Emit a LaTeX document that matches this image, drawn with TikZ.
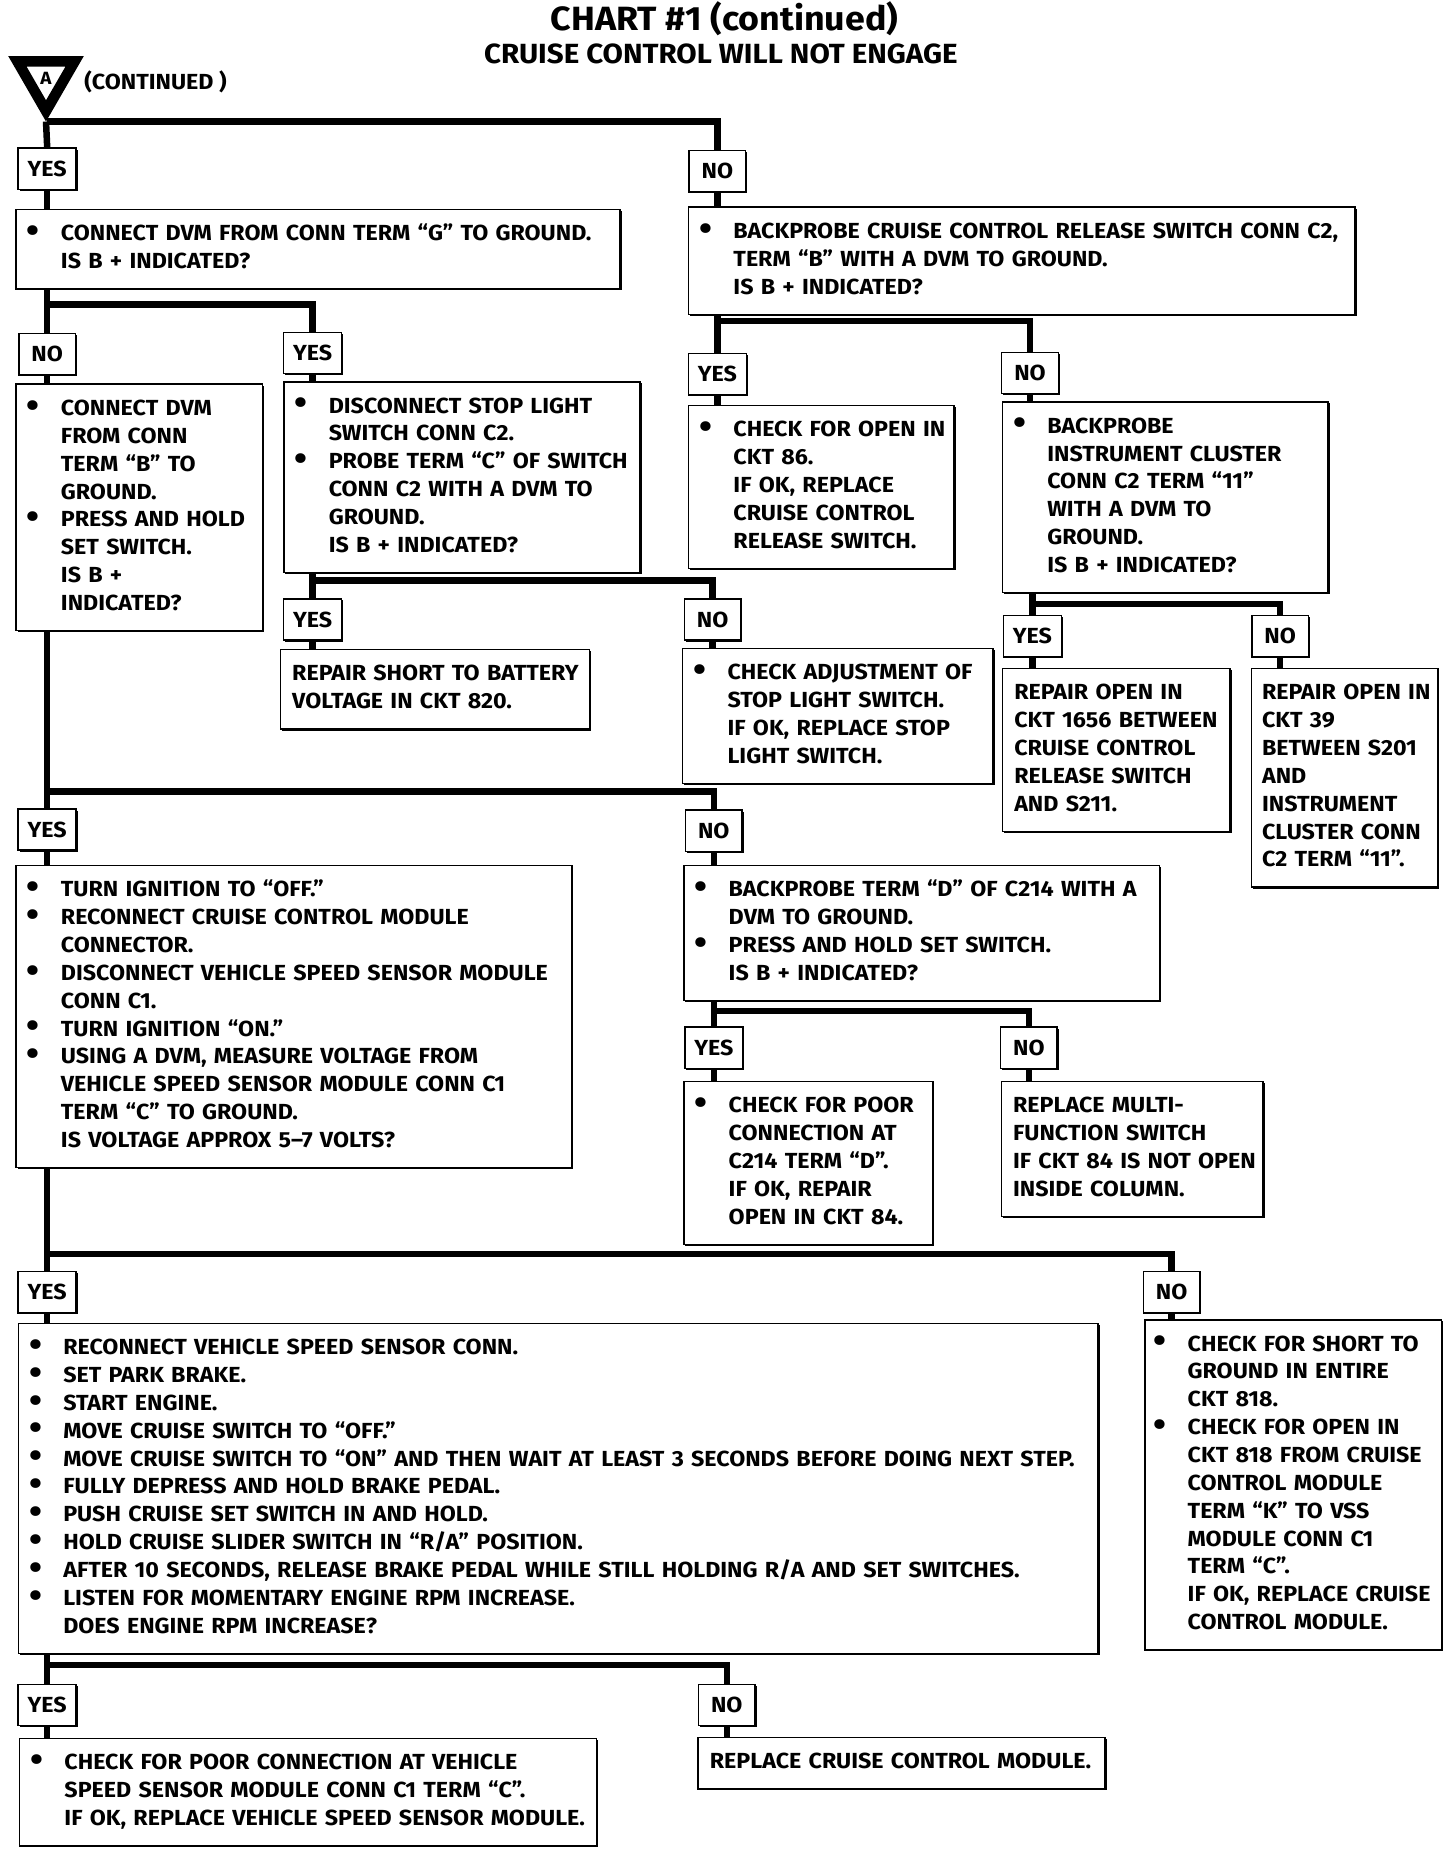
\documentclass[tikz,border=0pt]{standalone}
\usepackage{fontspec}
\setmainfont{Fira Sans}[BoldFeatures={FakeStretch=1.065}]
\usepackage{tikz}
\usetikzlibrary{shapes.geometric,shadows}

\newcommand{\boxfont}{\fontsize{18.5}{23.6}\selectfont\bfseries}
\newcommand{\bul}{\leavevmode\llap{\raisebox{-1.5pt}{\scalebox{1.6}{\textbullet}}\hspace{18pt}}}

\begin{document}
\begin{tikzpicture}[x=1pt,y=-1pt,
  flow/.style={line width=5.5pt},
  boxshadow/.style={drop shadow={shadow xshift=1.3pt,shadow yshift=-1.3pt,opacity=1,fill=black}},
  ans/.style={draw,line width=1.3pt,fill=white,boxshadow,anchor=north,minimum height=35pt,minimum width=48pt,inner xsep=8pt,font=\boxfont},
  stepbox/.style={draw,line width=1.3pt,fill=white,boxshadow,anchor=north west,align=left,inner xsep=0pt,inner ysep=10pt,font=\boxfont,
    execute at begin node={\leftskip=#1\rightskip=-12pt plus 1fil\strut},execute at end node={\strut}},
  stepbox/.default=38pt]
  \useasboundingbox (0,0) rectangle (1234,1568); % 画面全体

  % 見出し
  \node[font=\fontsize{28.5}{30}\selectfont\bfseries] (title) at (614,16) {CHART \#1 (continued)};
  \node[font=\fontsize{23.5}{25}\selectfont\bfseries] (subtitle) at (611,46) {CRUISE CONTROL WILL NOT ENGAGE};
  \node[regular polygon,regular polygon sides=3,shape border rotate=180,draw,line width=9pt,fill=white,
    minimum size=56pt,inner sep=0pt,font=\fontsize{15}{15}\selectfont\bfseries] (tri) at (39,66) {A}; % 継続記号
  \node[anchor=west,font=\fontsize{18.5}{20}\selectfont\bfseries] (cont) at (68,69) {(CONTINUED )};

  % YES / NO
  \node[ans] (yes1) at (40,125) {YES};
  \node[ans] (no1) at (608,127) {NO};
  \node[ans] (no2) at (40,282) {NO};
  \node[ans] (yes2) at (265,281) {YES};
  \node[ans] (yes3) at (608,299) {YES};
  \node[ans] (no3) at (873,298) {NO};
  \node[ans] (yes4) at (265,507) {YES};
  \node[ans] (no4) at (604,507) {NO};
  \node[ans] (yes5) at (875,521) {YES};
  \node[ans] (no5) at (1085,521) {NO};
  \node[ans] (yes6) at (40,685) {YES};
  \node[ans] (no6) at (605,686) {NO};
  \node[ans] (yes7) at (605,870) {YES};
  \node[ans] (no7) at (872,870) {NO};
  \node[ans] (yes8) at (40,1077) {YES};
  \node[ans] (no8) at (993,1077) {NO};
  \node[ans] (yes9) at (40,1427) {YES};
  \node[ans] (no9) at (616,1427) {NO};

  % 手順の箱
  \node[stepbox,text width=512pt] (a) at (13,177) {\bul CONNECT DVM FROM CONN TERM ``G'' TO GROUND.\\IS B + INDICATED?};
  \node[stepbox,text width=565pt] (b) at (583,175) {\bul BACKPROBE CRUISE CONTROL RELEASE SWITCH CONN C2,\\TERM ``B'' WITH A DVM TO GROUND.\\IS B + INDICATED?};
  \node[stepbox,text width=209pt] (c) at (13,325) {\bul CONNECT DVM\\FROM CONN\\TERM ``B'' TO\\GROUND.\\\bul PRESS AND HOLD\\SET SWITCH.\\IS B +\\INDICATED?};
  \node[stepbox,text width=302pt] (d) at (240,323) {\bul DISCONNECT STOP LIGHT\\SWITCH CONN C2.\\\bul PROBE TERM ``C'' OF SWITCH\\CONN C2 WITH A DVM TO\\GROUND.\\IS B + INDICATED?};
  \node[stepbox,text width=225pt] (e) at (583,343) {\bul CHECK FOR OPEN IN\\CKT 86.\\IF OK, REPLACE\\CRUISE CONTROL\\RELEASE SWITCH.};
  \node[stepbox,text width=276pt] (f) at (849,340) {\bul BACKPROBE\\INSTRUMENT CLUSTER\\CONN C2 TERM ``11''\\WITH A DVM TO\\GROUND.\\IS B + INDICATED?};
  \node[stepbox=10pt,text width=262pt] (g) at (237,550) {REPAIR SHORT TO BATTERY\\VOLTAGE IN CKT 820.};
  \node[stepbox,text width=263pt] (h) at (578,549) {\bul CHECK ADJUSTMENT OF\\STOP LIGHT SWITCH.\\IF OK, REPLACE STOP\\LIGHT SWITCH.};
  \node[stepbox=10pt,text width=193pt] (i) at (849,566) {REPAIR OPEN IN\\CKT 1656 BETWEEN\\CRUISE CONTROL\\RELEASE SWITCH\\AND S211.};
  \node[stepbox=9pt,text width=158pt] (j) at (1060,566) {REPAIR OPEN IN\\CKT 39\\BETWEEN S201\\AND\\INSTRUMENT\\CLUSTER CONN\\C2 TERM ``11''.};
  \node[stepbox,text width=471pt] (k) at (13,733) {\bul TURN IGNITION TO ``OFF.''\\\bul RECONNECT CRUISE CONTROL MODULE\\CONNECTOR.\\\bul DISCONNECT VEHICLE SPEED SENSOR MODULE\\CONN C1.\\\bul TURN IGNITION ``ON.''\\\bul USING A DVM, MEASURE VOLTAGE FROM\\VEHICLE SPEED SENSOR MODULE CONN C1\\TERM ``C'' TO GROUND.\\IS VOLTAGE APPROX 5--7 VOLTS?};
  \node[stepbox,text width=403pt] (l) at (579,733) {\bul BACKPROBE TERM ``D'' OF C214 WITH A\\DVM TO GROUND.\\\bul PRESS AND HOLD SET SWITCH.\\IS B + INDICATED?};
  \node[stepbox,text width=211pt] (m) at (579,916) {\bul CHECK FOR POOR\\CONNECTION AT\\C214 TERM ``D''.\\IF OK, REPAIR\\OPEN IN CKT 84.};
  \node[stepbox=10pt,text width=222pt] (n) at (848,916) {REPLACE MULTI-\\FUNCTION SWITCH\\IF CKT 84 IS NOT OPEN\\INSIDE COLUMN.};
  \node[stepbox,text width=915pt] (o) at (15,1121) {\bul RECONNECT VEHICLE SPEED SENSOR CONN.\\\bul SET PARK BRAKE.\\\bul START ENGINE.\\\bul MOVE CRUISE SWITCH TO ``OFF.''\\\bul MOVE CRUISE SWITCH TO ``ON'' AND THEN WAIT AT LEAST 3 SECONDS BEFORE DOING NEXT STEP.\\\bul FULLY DEPRESS AND HOLD BRAKE PEDAL.\\\bul PUSH CRUISE SET SWITCH IN AND HOLD.\\\bul HOLD CRUISE SLIDER SWITCH IN ``R/A'' POSITION.\\\bul AFTER 10 SECONDS, RELEASE BRAKE PEDAL WHILE STILL HOLDING R/A AND SET SWITCHES.\\\bul LISTEN FOR MOMENTARY ENGINE RPM INCREASE.\\DOES ENGINE RPM INCREASE?};
  \node[stepbox=36pt,text width=251pt] (p) at (970,1118) {\bul CHECK FOR SHORT TO\\GROUND IN ENTIRE\\CKT 818.\\\bul CHECK FOR OPEN IN\\CKT 818 FROM CRUISE\\CONTROL MODULE\\TERM ``K'' TO VSS\\MODULE CONN C1\\TERM ``C''.\\IF OK, REPLACE CRUISE\\CONTROL MODULE.};
  \node[stepbox,text width=489pt] (q) at (16,1473) {\bul CHECK FOR POOR CONNECTION AT VEHICLE\\SPEED SENSOR MODULE CONN C1 TERM ``C''.\\IF OK, REPLACE VEHICLE SPEED SENSOR MODULE.};
  \node[stepbox=10pt,text width=345pt] (r) at (591,1472) {REPLACE CRUISE CONTROL MODULE.};

  % 分岐点
  \coordinate (s0) at (40,103);
  \coordinate (s1) at (40,258);
  \coordinate (s2) at (608,272);
  \coordinate (s3) at (265,492);
  \coordinate (s4) at (875,512);
  \coordinate (s5) at (40,671);
  \coordinate (s6) at (605,857);
  \coordinate (s7) at (40,1063);
  \coordinate (s8) at (40,1411);

  % 流れ線
  \draw[flow] (tri.south) -- (yes1.north);
  \draw[flow] (s0) -| (no1.north);
  \draw[flow] (yes1.south) -- (a.north -| yes1.south);
  \draw[flow] (no1.south) -- (b.north -| no1.south);
  \draw[flow] (a.south -| no2.north) -- (no2.north);
  \draw[flow] (s1) -| (yes2.north);
  \draw[flow] (no2.south) -- (c.north -| no2.south);
  \draw[flow] (yes2.south) -- (d.north -| yes2.south);
  \draw[flow] (b.south -| yes3.north) -- (yes3.north);
  \draw[flow] (s2) -| (no3.north);
  \draw[flow] (yes3.south) -- (e.north -| yes3.south);
  \draw[flow] (no3.south) -- (f.north -| no3.south);
  \draw[flow] (d.south -| yes4.north) -- (yes4.north);
  \draw[flow] (s3) -| (no4.north);
  \draw[flow] (yes4.south) -- (g.north -| yes4.south);
  \draw[flow] (no4.south) -- (h.north -| no4.south);
  \draw[flow] (f.south -| yes5.north) -- (yes5.north);
  \draw[flow] (s4) -| (no5.north);
  \draw[flow] (yes5.south) -- (i.north -| yes5.south);
  \draw[flow] (no5.south) -- (j.north -| no5.south);
  \draw[flow] (c.south -| yes6.north) -- (yes6.north);
  \draw[flow] (s5) -| (no6.north);
  \draw[flow] (yes6.south) -- (k.north -| yes6.south);
  \draw[flow] (no6.south) -- (l.north -| no6.south);
  \draw[flow] (l.south -| yes7.north) -- (yes7.north);
  \draw[flow] (s6) -| (no7.north);
  \draw[flow] (yes7.south) -- (m.north -| yes7.south);
  \draw[flow] (no7.south) -- (n.north -| no7.south);
  \draw[flow] (k.south -| yes8.north) -- (yes8.north);
  \draw[flow] (s7) -| (no8.north);
  \draw[flow] (yes8.south) -- (o.north -| yes8.south);
  \draw[flow] (no8.south) -- (p.north -| no8.south);
  \draw[flow] (o.south -| yes9.north) -- (yes9.north);
  \draw[flow] (s8) -| (no9.north);
  \draw[flow] (yes9.south) -- (q.north -| yes9.south);
  \draw[flow] (no9.south) -- (r.north -| no9.south);
\end{tikzpicture}
\end{document}
